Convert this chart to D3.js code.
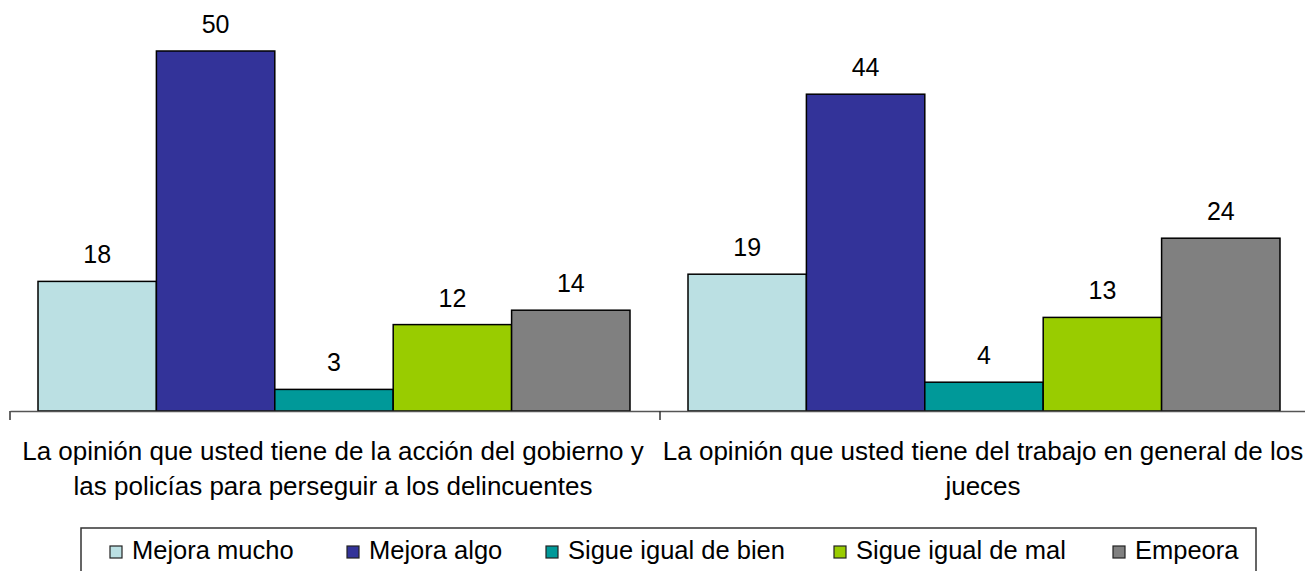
<!DOCTYPE html>
<html>
<head>
<meta charset="utf-8">
<script src="https://cdn.jsdelivr.net/npm/d3@7"></script>
<style>
  body { margin: 0; background: #fff; }
  svg { font-family: "Liberation Sans", Arial, sans-serif; }
</style>
</head>
<body>
<svg id="chart" width="1305" height="571"></svg>
<script>
// Data
const categories = [
  ["La opinión que usted tiene de la acción del gobierno y", "las policías para perseguir a los delincuentes"],
  ["La opinión que usted tiene del trabajo en general de los", "jueces"]
];
const series = ["Mejora mucho", "Mejora algo", "Sigue igual de bien", "Sigue igual de mal", "Empeora"];
const colors = ["#bbe0e3", "#333399", "#009999", "#99cc00", "#808080"];
const values = [
  [18, 50, 3, 12, 14],
  [19, 44, 4, 13, 24]
];

const svg = d3.select("#chart");
const baseY = 411;

const x0 = d3.scaleBand().domain(d3.range(categories.length)).range([10, 1310]);
const x1 = d3.scaleBand().domain(d3.range(series.length)).range([28, 620]);
const y = d3.scaleLinear().domain([0, 50]).range([baseY, 51]);

// bars
const groups = svg.selectAll("g.grp")
  .data(values)
  .join("g")
  .attr("class", "grp")
  .attr("transform", (d, i) => `translate(${x0(i)},0)`);

groups.selectAll("rect")
  .data(d => d)
  .join("rect")
  .attr("x", (d, j) => x1(j))
  .attr("y", d => y(d))
  .attr("width", x1.bandwidth())
  .attr("height", d => baseY - y(d))
  .attr("fill", (d, j) => colors[j])
  .attr("stroke", "#000")
  .attr("stroke-width", 1.5);

groups.selectAll("text.val")
  .data(d => d)
  .join("text")
  .attr("class", "val")
  .attr("x", (d, j) => x1(j) + x1.bandwidth() / 2)
  .attr("y", d => y(d) - 18)
  .attr("text-anchor", "middle")
  .attr("font-size", 25)
  .attr("fill", "#000")
  .text(d => d);

// axis
const axis = svg.append("g").attr("transform", `translate(0,${baseY})`)
  .call(d3.axisBottom(x0).tickValues([]).tickSizeOuter(0));
axis.select(".domain").attr("stroke", "#555").attr("stroke-width", 1.5);
const tickXs = [10, ...x0.domain().map(i => x0(i) + x0.bandwidth())];
axis.selectAll("line.tk")
  .data(tickXs)
  .join("line")
  .attr("class", "tk")
  .attr("x1", d => d).attr("x2", d => d)
  .attr("y1", 0).attr("y2", 9)
  .attr("stroke", "#333").attr("stroke-width", 1.5);

// category labels
svg.selectAll("text.cat")
  .data(categories)
  .join("text")
  .attr("class", "cat")
  .attr("text-anchor", "middle")
  .attr("font-size", 26)
  .attr("fill", "#000")
  .each(function(lines, i) {
    d3.select(this).selectAll("tspan")
      .data(lines)
      .join("tspan")
      .attr("x", x0(i) + x0.bandwidth() / 2 - 2)
      .attr("y", (d, k) => 460 + k * 35)
      .text(d => d);
  });

// legend
svg.append("rect")
  .attr("x", 81).attr("y", 528)
  .attr("width", 1175).attr("height", 60)
  .attr("fill", "none").attr("stroke", "#333").attr("stroke-width", 1.5);

const legendX = [110, 347, 546, 834, 1113];
const leg = svg.selectAll("g.leg")
  .data(series)
  .join("g")
  .attr("class", "leg")
  .attr("transform", (d, i) => `translate(${legendX[i]},0)`);
leg.append("rect")
  .attr("x", 0).attr("y", 546)
  .attr("width", 12).attr("height", 12)
  .attr("fill", (d, i) => colors[i])
  .attr("stroke", "#222").attr("stroke-width", 1.2);
leg.append("text")
  .attr("x", 22).attr("y", 559)
  .attr("font-size", 25.5)
  .attr("fill", "#000")
  .text(d => d);
</script>
</body>
</html>
